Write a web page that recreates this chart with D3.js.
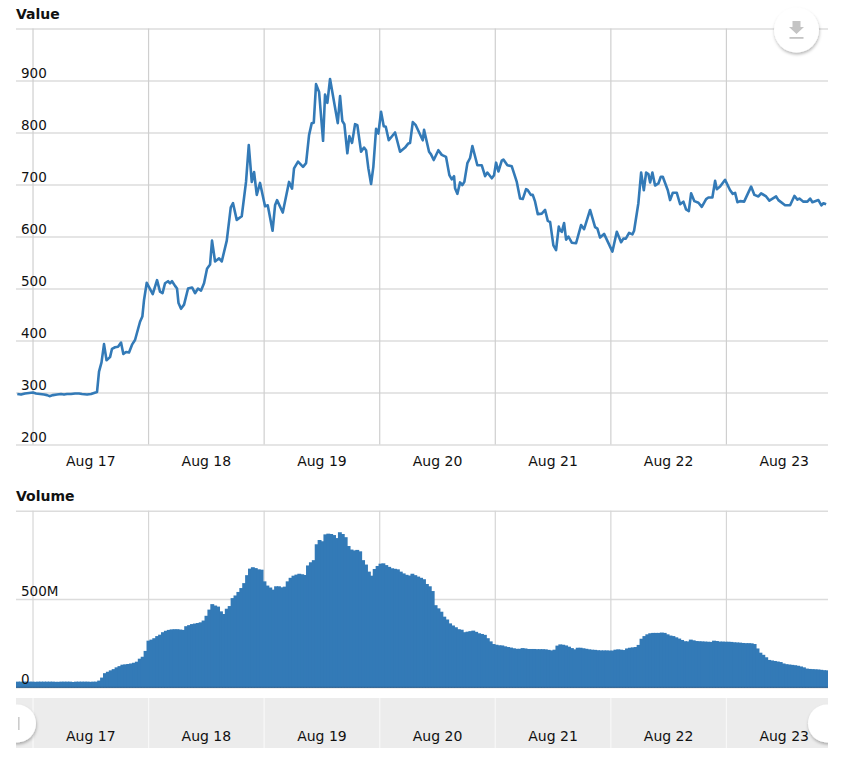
<!DOCTYPE html>
<meta charset="utf-8">
<style>
  body { margin: 0; background: white; }
  text { font-family: "DejaVu Sans", sans-serif; fill: #111; }
</style>
<body>
<div id="chart"></div>
<script src="https://d3js.org/d3.v7.min.js"></script>
<script>

// hours since Aug 17 00:00, and the value at each of those hours
var lineHours = [-3.16,-2.39,-1.56,-0.73,0.10,0.73,1.56,2.39,3.01,3.53,4.26,5.09,5.92,6.54,7.17,8.00,8.83,9.66,10.28,11.32,12.15,12.77,13.40,13.81,14.33,14.85,15.37,16.10,16.51,17.14,17.76,18.38,18.86,19.42,20.04,20.67,21.29,22.33,22.81,23.16,23.72,24.97,25.86,26.48,27.00,27.52,28.14,28.56,28.97,29.60,30.01,30.32,30.84,31.47,32.30,33.13,33.75,34.37,35.00,35.62,36.24,36.87,37.28,37.91,38.74,39.30,40.34,41.17,41.64,42.41,43.45,44.34,44.91,45.53,46.01,46.57,47.25,48.29,48.85,49.85,50.37,50.78,51.97,53.27,53.90,54.31,55.14,56.18,56.81,57.43,57.99,58.41,58.88,59.51,60.34,60.75,61.23,61.79,63.39,63.87,64.34,64.76,65.38,65.80,66.36,66.98,67.46,68.23,68.85,69.27,69.75,70.31,70.78,71.35,71.82,72.38,72.94,73.36,73.98,75.29,76.33,77.37,78.05,78.41,78.97,79.59,81.04,81.31,82.35,82.76,83.32,84.28,84.99,85.88,86.57,87.07,87.54,87.75,88.23,88.79,89.27,89.68,90.31,90.87,91.35,92.38,93.30,93.99,94.46,95.38,95.85,96.27,96.75,97.45,97.79,98.62,99.53,100.57,101.25,101.81,102.50,102.85,103.48,103.89,104.37,104.93,105.76,106.45,107.01,107.49,108.17,108.73,109.29,109.56,109.92,110.39,110.81,111.29,111.99,112.88,113.92,114.55,115.79,116.83,117.31,117.87,118.70,120.43,121.34,122.23,122.71,123.21,123.89,124.58,124.93,125.82,126.39,126.95,127.43,127.90,128.26,128.73,129.29,129.98,130.48,130.89,131.93,132.41,132.97,133.80,134.49,135.17,135.73,136.29,136.77,137.45,138.29,138.99,139.89,140.36,141.19,141.75,142.11,142.79,143.83,144.87,145.43,145.91,146.39,146.95,147.78,149.23,149.92,150.75,151.31,152.35,153.03,154.42,154.90,156.29,157.33,158.22,158.85,159.26,160.09,160.92,161.48,161.96,163.21,163.83,164.25,164.81];

var lineValues = [297,296,298,299,300,298,297,296,295,293,295,296,297,296,297,297,298,298,297,296,297,299,301,340,358,393,362,368,384,387,388,396,374,378,377,392,401,436,446,478,511,489,516,494,491,510,514,510,514,505,500,472,461,469,500,502,491,500,496,510,538,546,592,552,558,552,592,656,664,632,639,705,776,705,724,680,703,658,660,611,660,670,646,705,692,731,744,734,741,795,818,819,893,878,784,873,857,903,818,870,822,816,760,793,780,816,814,763,771,766,731,701,734,807,798,840,812,811,785,800,763,771,779,780,820,814,785,805,763,758,747,766,757,753,718,710,716,693,682,704,699,705,741,751,774,737,737,716,723,712,718,742,725,746,748,737,735,705,673,672,691,689,680,680,667,643,644,651,630,628,583,574,619,612,609,626,594,600,588,587,622,614,651,618,615,598,605,571,609,589,596,596,607,604,611,664,723,689,723,720,704,723,698,702,715,715,689,670,684,684,662,667,652,649,683,668,665,657,672,675,675,707,691,696,709,689,682,684,666,668,667,696,680,677,683,677,669,677,670,660,660,678,671,673,667,667,673,666,670,660,664,662];

// volume in millions, one bar every volumeStep hours starting at volumeStart
var volumeStart = -3.43;
var volumeStep = 0.6023;
var volumeValues = [32,32,32,32,32,32,31,32,32,32,32,32,32,31,31,32,32,32,32,30,32,32,32,32,32,31,32,32,38,55,80,88,96,103,113,120,128,130,132,135,139,145,162,173,206,264,270,278,290,298,312,320,325,328,329,329,327,325,346,352,358,361,364,368,378,405,440,471,463,457,430,415,445,460,505,520,540,562,590,635,672,680,675,668,666,600,576,565,553,572,572,566,570,600,620,632,638,643,640,636,690,708,720,810,834,827,866,870,868,862,845,878,868,850,800,780,775,778,770,720,695,655,632,670,687,700,702,692,682,674,671,668,655,645,637,633,643,635,627,620,612,585,572,545,465,447,428,400,384,362,350,340,329,326,312,315,318,321,314,306,302,297,278,260,245,241,238,237,232,228,225,221,218,218,222,220,217,217,217,216,216,216,215,212,209,213,236,243,241,237,230,222,215,224,224,221,218,215,213,212,210,209,209,209,208,208,213,215,213,211,220,224,226,228,240,275,290,300,306,308,308,308,310,308,300,293,290,283,276,268,261,260,270,266,262,261,260,259,258,257,264,262,259,259,258,258,257,255,254,253,251,250,250,249,245,220,196,184,170,155,152,149,146,143,135,131,129,127,125,122,118,113,106,104,103,102,101,99,97,96];

var valueTicks = [200,300,400,500,600,700,800,900,1000];
var volumeTicks = [0,500,1000];
var volumeTickLabels = ["0","500M",""];
var dayNumbers = [17,18,19,20,21,22,23];
var dayLabels = ["Aug 17","Aug 18","Aug 19","Aug 20","Aug 21","Aug 22","Aug 23"];

var width = 843, height = 764;
var left = 16, right = 828;

function hoursToDate(h) { return new Date(Date.UTC(2017,7,17) + h * 3600000); }
var dayStarts = dayNumbers.map(function(d, i) { return hoursToDate(i * 24); });
var dayMiddles = dayNumbers.map(function(d, i) { return hoursToDate(i * 24 + 12); });

var x = d3.scaleUtc()
  .domain([hoursToDate(-3.43), hoursToDate(165.2)])
  .range([left, right]);
var yValue = d3.scaleLinear().domain([200,1000]).range([444.5,28.5]);
var yVolume = d3.scaleLinear().domain([0,1000]).range([687.3,510.7]);

var svg = d3.select("#chart").append("svg")
  .attr("width", width)
  .attr("height", height)
  .style("display", "block");

var defs = svg.append("defs");
var shadow = defs.append("filter").attr("id", "shadow")
  .attr("x", "-30%").attr("y", "-30%").attr("width", "160%").attr("height", "170%");
shadow.append("feDropShadow")
  .attr("dx", 0.5).attr("dy", 2).attr("stdDeviation", 1.6)
  .attr("flood-color", "#000").attr("flood-opacity", 0.28);
defs.append("clipPath").attr("id", "navClip").append("rect")
  .attr("x", left).attr("y", 690).attr("width", right - left).attr("height", 70);
defs.append("clipPath").attr("id", "volClip").append("rect")
  .attr("x", left).attr("y", 500).attr("width", right - left).attr("height", 190);

function hGrid(scale, ticks) {
  var g = svg.append("g")
    .attr("transform", "translate(" + right + ",0)")
    .call(d3.axisLeft(scale).tickValues(ticks).tickSize(right - left).tickFormat(""));
  g.select(".domain").remove();
  g.selectAll("line").attr("stroke", "#dcdcdc").attr("stroke-width", 1.4);
}

function vGrid(y0, y1, color) {
  var g = svg.append("g")
    .attr("transform", "translate(0," + y1 + ")")
    .call(d3.axisTop(x).tickValues(dayStarts).tickSize(y1 - y0).tickFormat(""));
  g.select(".domain").remove();
  g.selectAll("line").attr("stroke", color).attr("stroke-width", 1.2);
}

function dayAxis(y) {
  var g = svg.append("g")
    .attr("transform", "translate(0," + y + ")")
    .call(d3.axisBottom(x).tickValues(dayMiddles).tickSize(0).tickPadding(0)
      .tickFormat(function(d, i) { return dayLabels[i]; }));
  g.select(".domain").remove();
  g.selectAll("text")
    .attr("y", 0).attr("dy", 0)
    .style("font-size", "14px")
    .style("font-family", "'DejaVu Sans', sans-serif")
    .attr("fill", "#111");
}

function title(label, y) {
  svg.append("text").attr("x", left).attr("y", y)
    .style("font-size", "14px").style("font-weight", "bold").text(label);
}

// value panel
title("Value", 19);
hGrid(yValue, valueTicks);
vGrid(28.5, 444.5, "#cfcfcf");

var line = d3.line()
  .x(function(d) { return x(hoursToDate(d)); })
  .y(function(d, i) { return yValue(lineValues[i]); });

svg.append("path")
  .datum(lineHours)
  .attr("d", line)
  .attr("fill", "none")
  .attr("stroke", "#337ab7")
  .attr("stroke-width", 2.6)
  .attr("stroke-linejoin", "round");

svg.append("g").selectAll("text")
  .data(valueTicks.filter(function(d) { return d < 1000; }))
  .enter().append("text")
    .attr("x", 21)
    .attr("y", function(d) { return yValue(d) - 3; })
    .style("font-size", "13.5px")
    .text(function(d) { return d; });

dayAxis(466);

// volume panel
title("Volume", 501);
hGrid(yVolume, volumeTicks);
vGrid(510.7, 687.3, "#d6d6d6");

svg.append("g").attr("clip-path", "url(#volClip)").selectAll("rect")
  .data(volumeValues)
  .enter().append("rect")
    .attr("x", function(d, i) { return x(hoursToDate(volumeStart + i * volumeStep)); })
    .attr("y", function(d) { return yVolume(d); })
    .attr("width", function(d, i) {
      return x(hoursToDate(volumeStart + (i + 1) * volumeStep)) - x(hoursToDate(volumeStart + i * volumeStep)) + 1;
    })
    .attr("height", function(d) { return yVolume(0) - yVolume(d); })
    .attr("fill", "#337ab7");

svg.append("line")
  .attr("x1", left).attr("x2", right)
  .attr("y1", yVolume(0)).attr("y2", yVolume(0))
  .attr("stroke", "#24598a").attr("stroke-width", 1);

svg.append("g").selectAll("text")
  .data(volumeTicks)
  .enter().append("text")
    .attr("x", 21)
    .attr("y", function(d) { return yVolume(d) - 3; })
    .style("font-size", "13.5px")
    .text(function(d, i) { return volumeTickLabels[i]; });

// navigator strip
svg.append("rect")
  .attr("x", left).attr("y", 698).attr("width", right - left).attr("height", 50)
  .attr("fill", "#ececec");
vGrid(698, 748, "#f8f8f8");
dayAxis(741);

var handles = svg.append("g").attr("clip-path", "url(#navClip)");
[17, 827].forEach(function(cx) {
  handles.append("circle")
    .attr("cx", cx).attr("cy", 723.5).attr("r", 19)
    .attr("fill", "white")
    .attr("filter", "url(#shadow)");
  handles.append("rect")
    .attr("x", cx + 1).attr("y", 717).attr("width", 1.6).attr("height", 13)
    .attr("fill", "#ccc");
});

// download button
var btn = svg.append("g").attr("transform", "translate(796.5,30)");
btn.append("circle").attr("r", 22.5).attr("fill", "white").attr("filter", "url(#shadow)");
btn.append("path")
  .attr("d", "M-4,-9H4V-3H7.5L0,4L-7.5,-3H-4Z")
  .attr("fill", "#c4c4c4");
btn.append("rect")
  .attr("x", -7).attr("y", 7).attr("width", 14).attr("height", 1.8)
  .attr("fill", "#c4c4c4");

</script>
</body>
